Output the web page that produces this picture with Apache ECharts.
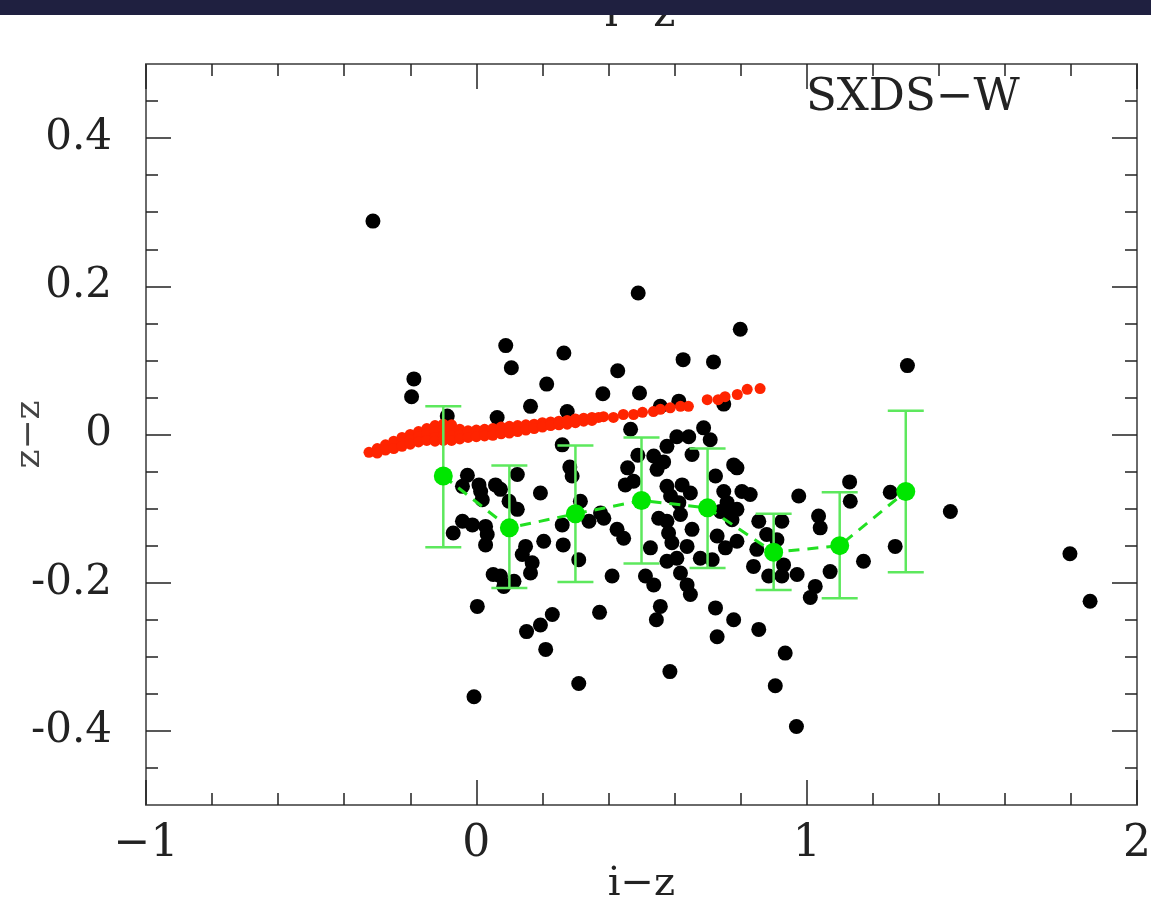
<!DOCTYPE html>
<html><head><meta charset="utf-8">
<script src="https://cdn.jsdelivr.net/npm/echarts@6/dist/echarts.min.js"></script>
<style>html,body{margin:0;padding:0;background:#fff;}#c{width:1151px;height:902px;}</style>
</head><body><div id="c"></div>
<script>
// ---- data ----
const galaxyPoints = [
[-0.313,0.288],[0.490,0.191],[0.089,0.120],[0.106,0.090],[0.265,0.110],[-0.189,0.075],[-0.196,0.051],
[0.213,0.068],[0.428,0.086],[0.164,0.038],[0.383,0.055],[0.494,0.056],[0.063,0.023],[0.275,0.031],
[-0.088,0.025],[0.467,0.007],[0.260,-0.014],[0.489,-0.028],[0.283,-0.044],[0.458,-0.045],[-0.027,-0.055],
[0.124,-0.054],[0.799,0.142],[0.626,0.101],[0.718,0.098],[0.557,0.038],[0.613,0.045],[0.749,0.041],
[0.688,0.009],[0.708,-0.007],[0.607,-0.003],[0.643,-0.003],[0.577,-0.016],[0.537,-0.029],[0.567,-0.037],
[0.653,-0.027],[0.547,-0.047],[0.779,-0.041],[0.789,-0.045],[0.724,-0.056],[0.451,-0.068],[0.476,-0.063],
[0.577,-0.070],[0.623,-0.068],[0.648,-0.079],[0.588,-0.083],[0.613,-0.092],[0.749,-0.077],[0.804,-0.077],
[0.829,-0.081],[0.759,-0.092],[0.386,-0.113],[0.552,-0.113],[0.577,-0.117],[0.653,-0.128],[0.739,-0.104],
[0.764,-0.106],[0.789,-0.101],[0.774,-0.115],[0.426,-0.128],[0.446,-0.140],[0.582,-0.133],[0.592,-0.146],
[0.729,-0.137],[0.789,-0.144],[0.638,-0.151],[0.527,-0.153],[0.678,-0.167],[0.714,-0.169],[0.754,-0.153],
[0.577,-0.171],[0.607,-0.167],[0.411,-0.191],[0.512,-0.191],[0.537,-0.203],[0.618,-0.187],[0.638,-0.203],
[0.648,-0.216],[0.855,-0.117],[0.925,-0.117],[0.879,-0.135],[0.910,-0.142],[0.849,-0.155],[0.839,-0.178],
[0.885,-0.191],[0.930,-0.176],[0.925,-0.191],[0.971,-0.189],[0.976,-0.083],[1.036,-0.110],[1.041,-0.126],
[1.130,-0.064],[1.132,-0.090],[1.253,-0.078],[1.268,-0.151],[1.071,-0.185],[1.172,-0.171],[1.026,-0.205],
[1.011,-0.220],[0.290,-0.056],[-0.042,-0.070],[0.008,-0.068],[0.013,-0.077],[0.018,-0.088],[0.058,-0.068],
[0.073,-0.074],[0.099,-0.090],[0.124,-0.101],[0.194,-0.079],[0.315,-0.090],[0.260,-0.122],[0.341,-0.117],
[0.376,-0.106],[-0.042,-0.117],[-0.012,-0.122],[-0.070,-0.133],[0.028,-0.124],[0.033,-0.135],[0.028,-0.149],
[0.149,-0.151],[0.139,-0.162],[0.169,-0.173],[0.164,-0.187],[0.204,-0.144],[0.263,-0.149],[0.310,-0.169],
[0.051,-0.189],[0.073,-0.191],[0.114,-0.198],[0.083,-0.205],[0.003,-0.232],[0.230,-0.243],[0.194,-0.257],
[0.152,-0.266],[0.210,-0.290],[0.373,-0.240],[0.310,-0.336],[-0.007,-0.354],[0.586,-0.320],[0.557,-0.232],
[0.545,-0.250],[0.724,-0.234],[0.779,-0.250],[0.729,-0.273],[0.855,-0.263],[0.935,-0.295],[0.905,-0.339],
[0.969,-0.394],[1.435,-0.104],[1.305,0.093],[1.797,-0.161],[1.858,-0.225],[0.618,-0.108]
];
const modelTrack = [
[-0.325,-0.024],[-0.30,-0.019],[-0.30,-0.025],[-0.275,-0.014],[-0.275,-0.021],[-0.25,-0.009],[-0.25,-0.019],
[-0.225,-0.004],[-0.225,-0.011],[-0.225,-0.016],[-0.20,0.000],[-0.20,-0.007],[-0.20,-0.013],
[-0.175,0.004],[-0.175,-0.003],[-0.175,-0.010],[-0.15,0.008],[-0.15,0.001],[-0.15,-0.008],
[-0.125,0.012],[-0.125,0.004],[-0.125,-0.004],[-0.125,-0.009],
[-0.10,0.014],[-0.10,0.006],[-0.10,-0.002],[-0.10,-0.008],[-0.075,0.013],[-0.075,0.005],[-0.075,-0.002],[-0.075,-0.008],
[-0.05,0.007],[-0.05,-0.001],[-0.05,-0.006],[-0.025,0.005],[-0.025,-0.004],[0.0,0.006],[0.0,-0.003],
[0.025,0.007],[0.025,-0.002],[0.05,0.008],[0.05,-0.001],[0.075,0.010],[0.075,0.001],
[0.10,0.011],[0.10,0.002],[0.125,0.012],[0.125,0.004],[0.15,0.013],[0.15,0.006],
[0.175,0.014],[0.175,0.008],[0.20,0.016],[0.20,0.010],[0.225,0.017],[0.225,0.012],
[0.25,0.018],[0.25,0.013],[0.275,0.019],[0.275,0.014],[0.30,0.021],[0.30,0.016],
[0.325,0.022],[0.325,0.018],[0.35,0.023],[0.35,0.019],[0.37,0.023],
[0.385,0.024],[0.415,0.023],[0.445,0.027],[0.476,0.027],[0.503,0.030],[0.536,0.031],[0.557,0.034],
[0.587,0.036],[0.618,0.038],[0.642,0.038],[0.699,0.047],[0.732,0.047],[0.753,0.051],[0.790,0.054],
[0.820,0.061],[0.859,0.062]
];
const binX    = [-0.1, 0.1, 0.3, 0.5, 0.7, 0.9, 1.1, 1.3];
const binMean = [-0.056, -0.126, -0.107, -0.089, -0.099, -0.159, -0.150, -0.077];
const binHigh = [0.038, -0.042, -0.015, -0.004, -0.019, -0.107, -0.078, 0.032];
const binLow  = [-0.152, -0.207, -0.199, -0.174, -0.180, -0.210, -0.221, -0.186];
const xTickValues = [-1, 0, 1, 2];
const xTickLabels = ['\u22121', '0', '1', '2'];
const yMajorTicks = [-0.4, -0.2, 0, 0.2, 0.4];
const yTickLabels = ['-0.4', '-0.2', '0', '0.2', '0.4'];
const yMinorTicks = [-0.45,-0.35,-0.3,-0.25,-0.15,-0.1,-0.05,0.05,0.1,0.15,0.25,0.3,0.35,0.45];
const panelLabel = 'SXDS\u2212W';
const xName = 'i\u2212z';
const yName = 'z\u2212z';

// ---- chart ----
const FONT = 'DejaVu Serif';
const chart = echarts.init(document.getElementById('c'), null, {renderer: 'canvas'});
const tickColor = '#222';
function xAxisDef(pos, showLabel) {
  return {
    type: 'value', position: pos, min: -1, max: 2, interval: 1,
    axisLine: {show: true, onZero: false, lineStyle: {color: '#6a6a6a', width: 2}},
    axisTick: {show: true, inside: true, length: 25, lineStyle: {color: tickColor, width: 1.5}},
    minorTick: {show: true, splitNumber: 5, length: 12, lineStyle: {color: tickColor, width: 1.5}},
    splitLine: {show: false}, minorSplitLine: {show: false},
    axisLabel: {show: showLabel, margin: 18, fontFamily: FONT, fontSize: 44, color: '#222',
      hideOverlap: false, showMinLabel: true, showMaxLabel: true,
      formatter: v => { const i = xTickValues.findIndex(t => Math.abs(t - v) < 1e-9); return i >= 0 ? xTickLabels[i] : ''; }},
    name: showLabel ? xName : '', nameLocation: 'middle', nameGap: 60, nameMoveOverlap: false,
    nameTextStyle: {fontFamily: FONT, fontSize: 40, color: '#222'}
  };
}
function yAxisDef(pos, values, len, showLabel, showLine) {
  return {
    type: 'value', position: pos, min: -0.5, max: 0.5,
    axisLine: {show: showLine, onZero: false, lineStyle: {color: '#6a6a6a', width: 2}},
    axisTick: {show: true, inside: true, length: len, customValues: values, lineStyle: {color: tickColor, width: 1.5}},
    splitLine: {show: false},
    axisLabel: {show: showLabel, customValues: showLabel ? values : undefined, margin: 34, fontFamily: FONT, fontSize: 42, color: '#222',
      formatter: v => { const i = yMajorTicks.findIndex(t => Math.abs(t - v) < 1e-9); return i >= 0 ? yTickLabels[i] : ''; }},
    name: showLabel ? yName : '', nameLocation: 'middle', nameGap: 98, nameMoveOverlap: false,
    nameTextStyle: {fontFamily: FONT, fontSize: 36, color: '#444'}
  };
}
const option = {
  backgroundColor: '#ffffff',
  animation: false,
  grid: {left: 146, right: 14, top: 64, bottom: 97, containLabel: false, outerBoundsMode: 'none'},
  xAxis: [xAxisDef('bottom', true), xAxisDef('top', false)],
  yAxis: [
    yAxisDef('left', yMajorTicks, 25, true, true),
    yAxisDef('left', yMinorTicks, 12, false, false),
    yAxisDef('right', yMajorTicks, 25, false, true),
    yAxisDef('right', yMinorTicks, 12, false, false)
  ],
  graphic: [
    {type: 'text', left: 806, top: 76, z: 50,
      style: {text: panelLabel, fontFamily: FONT, fontSize: 45, fill: '#222'}},
    {type: 'text', x: 640, y: 36, z: 50,
      style: {text: xName, fontFamily: FONT, fontSize: 42, fill: '#222', align: 'center', verticalAlign: 'bottom'}},
    {type: 'rect', left: 0, top: 0, z: 100,
      shape: {width: 1151, height: 15}, style: {fill: '#1f2040'}}
  ],
  series: [
    {type: 'scatter', name: 'galaxies', xAxisIndex: 0, yAxisIndex: 0, data: galaxyPoints,
      symbol: 'circle', symbolSize: 15, itemStyle: {color: '#000000', opacity: 1}, z: 2, silent: true},
    {type: 'scatter', name: 'model', xAxisIndex: 0, yAxisIndex: 0, data: modelTrack,
      symbol: 'circle', symbolSize: 11, itemStyle: {color: '#ff2400', opacity: 1}, z: 3, silent: true},
    {type: 'custom', name: 'errors', xAxisIndex: 0, yAxisIndex: 0, z: 4, silent: true,
      data: binX.map((x, i) => [x, binLow[i], binHigh[i]]),
      renderItem: (params, api) => {
        const x = api.value(0);
        const lo = api.coord([x, api.value(1)]);
        const hi = api.coord([x, api.value(2)]);
        const w = 18;
        const st = {stroke: '#5de85d', lineWidth: 2.5};
        return {type: 'group', children: [
          {type: 'line', shape: {x1: lo[0], y1: lo[1], x2: hi[0], y2: hi[1]}, style: st},
          {type: 'line', shape: {x1: lo[0]-w, y1: lo[1], x2: lo[0]+w, y2: lo[1]}, style: st},
          {type: 'line', shape: {x1: hi[0]-w, y1: hi[1], x2: hi[0]+w, y2: hi[1]}, style: st}
        ]};
      }},
    {type: 'line', name: 'meanLine', xAxisIndex: 0, yAxisIndex: 0, z: 5, silent: true,
      data: binX.map((x, i) => [x, binMean[i]]), showSymbol: false, symbol: 'none',
      lineStyle: {color: '#22e022', width: 3, type: [11, 8]}},
    {type: 'scatter', name: 'means', xAxisIndex: 0, yAxisIndex: 0, z: 6, silent: true,
      data: binX.map((x, i) => [x, binMean[i]]), symbol: 'circle', symbolSize: 19,
      itemStyle: {color: '#00e600', opacity: 1}}
  ]
};
chart.setOption(option);
</script>
</body></html>
